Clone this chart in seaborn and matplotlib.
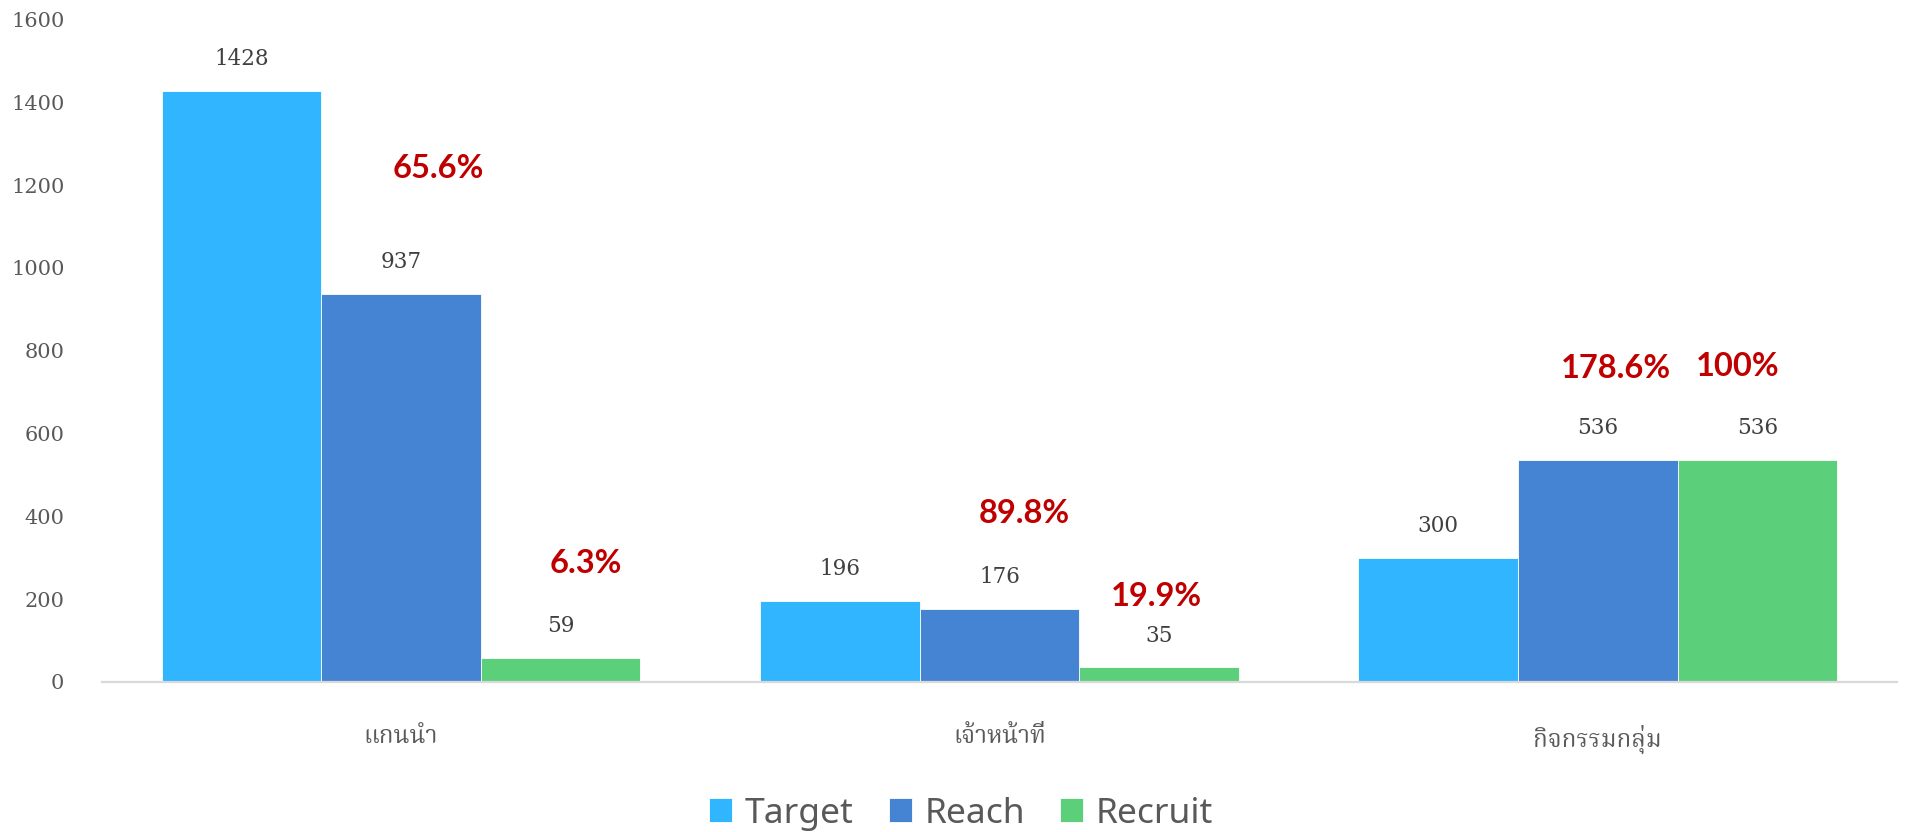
import numpy as np
import pandas as pd
import matplotlib
matplotlib.use("Agg")
import matplotlib.pyplot as plt
import seaborn as sns
from matplotlib import font_manager

# ---------------- data ----------------
categories = ["แกนนำ", "เจ้าหน้าที่", "กิจกรรมกลุ่ม"]
series = ["Target", "Reach", "Recruit"]
target = [1428, 196, 300]
reach = [937, 176, 536]
recruit = [59, 35, 536]
pct_labels = ["65.6%", "6.3%", "89.8%", "19.9%", "178.6%", "100%"]
# anchor (category index offset, value) for the red percentage notes
pct_x = [0.062, 0.308, 1.041, 1.263, 2.030, 2.233]
pct_y = [1240, 286, 407, 206, 757, 763]
yticks = [0, 200, 400, 600, 800, 1000, 1200, 1400, 1600]

colors = ["#31B5FE", "#4584D3", "#5BCF79"]

# ---------------- fonts ----------------
def find_thai_font():
    try:
        from fontTools.ttLib import TTFont
    except Exception:
        return None
    found = []
    for fe in font_manager.fontManager.ttflist:
        try:
            kw = {"fontNumber": 0} if fe.fname.lower().endswith(".ttc") else {}
            f = TTFont(fe.fname, lazy=True, **kw)
            cmap = f.getBestCmap()
            if cmap and 0x0E01 in cmap and 0x0E33 in cmap and 0x0E49 in cmap:
                found.append(fe.name)
        except Exception:
            pass
    if not found:
        return None
    pref = ["Noto Serif Thai", "Noto Sans Thai", "Noto Sans Thai Looped", "Loma", "Garuda", "Norasi"]
    for p in pref:
        if p in found:
            return p
    return found[0]


def has_bold(name):
    for fe in font_manager.fontManager.ttflist:
        if fe.name == name and (fe.weight in ("bold", 700) or str(fe.weight) in ("700", "bold")):
            return True
    return False

sns.set_theme(style="white")
thai_font = find_thai_font()
thai_family = [thai_font, "DejaVu Sans"] if thai_font else ["DejaVu Sans"]
bold_family = "DejaVu Sans"
for cand in ["Lato", "Open Sans", "Noto Sans", "Roboto"]:
    if has_bold(cand):
        bold_family = cand
        break

# ---------------- frame ----------------
df = pd.DataFrame({
    "category": np.repeat(categories, len(series)),
    "series": series * len(categories),
    "value": np.ravel(np.column_stack([target, reach, recruit])),
})

fig = plt.figure(figsize=(19.09, 8.32), dpi=100)
ax = fig.add_axes([0.0534, 0.1803, 0.9403, 0.7963])

sns.barplot(data=df, x="category", y="value", hue="series", order=categories,
            hue_order=series, palette=colors, width=0.8, ax=ax,
            edgecolor="white", linewidth=0.6, saturation=1, legend=True)

ax.set_xlim(-0.5, 2.5)
ax.set_ylim(0, 1600)
ax.set_yticks(yticks)
ax.set_yticklabels([str(t) for t in yticks], family="DejaVu Serif", fontsize=15, color="#595959")
ax.set_xlabel("")
ax.set_ylabel("")
for lab in ax.get_xticklabels():
    lab.set_family(thai_family)
    lab.set_fontsize(17.5)
    lab.set_color("#595959")
ax.tick_params(axis="x", length=0, pad=31)
ax.tick_params(axis="y", length=0, pad=27)

for s in ["top", "right", "left"]:
    ax.spines[s].set_visible(False)
ax.spines["bottom"].set_color("#D9D9D9")
ax.spines["bottom"].set_linewidth(1.6)
ax.grid(False)

for cont in ax.containers:
    ax.bar_label(cont, fmt="%d", padding=15, family="DejaVu Serif", fontsize=15.5, color="#404040")

for t, x, y in zip(pct_labels, pct_x, pct_y):
    ax.text(x, y, t, ha="center", va="center", color="#C00000", fontsize=23.5,
            fontweight="bold", family=bold_family)

handles, labels = ax.get_legend_handles_labels()
ax.legend_.remove()
fig.legend(handles, labels, loc="center", bbox_to_anchor=(0.5035, 0.022), ncol=3,
           frameon=False, handlelength=0.65, handleheight=0.65, handletextpad=0.35,
           columnspacing=1.0, prop={"family": "Noto Sans", "size": 25.5}, labelcolor="#595959")

fig.savefig("out.png", dpi=100)
